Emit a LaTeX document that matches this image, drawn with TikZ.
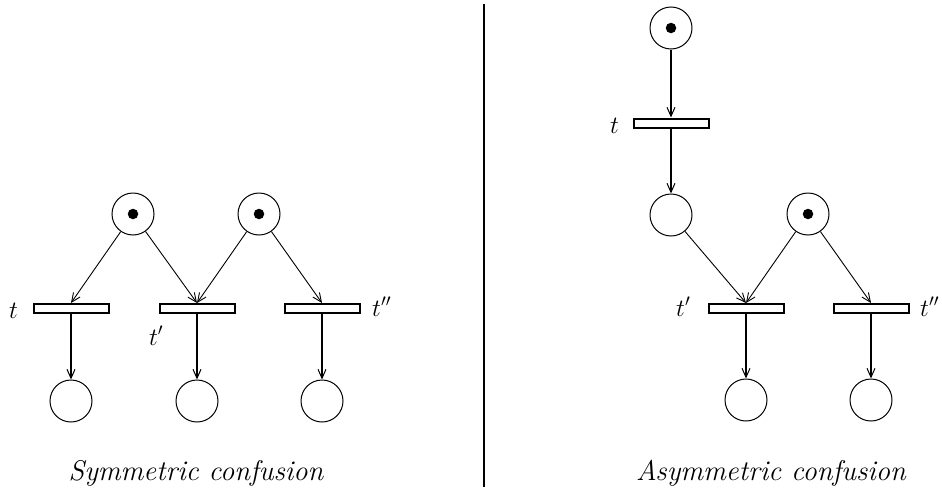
\documentclass[tikz,border=0pt]{standalone}
\usetikzlibrary{arrows.meta}
\begin{document}
\begin{tikzpicture}[x=1pt,y=-1pt,
  place/.style={circle,draw,line width=1pt,minimum size=42pt,inner sep=0pt},
  trans/.style={rectangle,draw,line width=2pt,minimum width=75pt,minimum height=9pt,inner sep=0pt,fill=white},
  token/.style={circle,fill,minimum size=10.5pt,inner sep=0pt},
  arcd/.style={line width=0.9pt,-{Straight Barb[length=9pt,width=8pt,line width=0.9pt]}},
  arcv/.style={line width=1.6pt,-{Straight Barb[length=9pt,width=8pt,line width=1pt]}},
  lbl/.style={inner sep=0pt,anchor=base west,font=\fontsize{24}{28}\selectfont},
  captext/.style={inner sep=0pt,anchor=base,font=\fontsize{28.5}{34}\selectfont\itshape}]
\useasboundingbox (0,0) rectangle (942,490);
% separator
\coordinate (sepT) at (484,4);
\coordinate (sepB) at (484,487);
\draw[line width=1.6pt] (sepT) -- (sepB);
% ---- left panel ----
\node[place] (L1) at (133,214) {};
\node[token] at (L1) {};
\node[place] (L2) at (259,214) {};
\node[token] at (L2) {};
\node[trans] (Lt) at (71,308.5) {};
\node[trans] (Ltp) at (197,308.5) {};
\node[trans] (Ltpp) at (322,308.5) {};
\node[place] (Lb1) at (71,401) {};
\node[place] (Lb2) at (197,401) {};
\node[place] (Lb3) at (322,401) {};
\draw[arcd] (L1) -- (Lt.north);
\draw[arcd] (L1) -- (Ltp.north);
\draw[arcd] (L2) -- (Ltp.north);
\draw[arcd] (L2) -- (Ltpp.north);
\draw[arcv] (Lt.south) -- (Lb1);
\draw[arcv] (Ltp.south) -- (Lb2);
\draw[arcv] (Ltpp.south) -- (Lb3);
\node[lbl] (lt) at (9,318) {$t$};
\node[lbl] (ltp) at (149,345) {$t'$};
\node[lbl] (ltpp) at (372,316) {$t''$};
\node[captext] (capL) at (196,480) {Symmetric confusion};
% ---- right panel ----
\node[place] (R0) at (671,28) {};
\node[token] at (R0) {};
\node[trans] (Rt) at (671,123) {};
\node[place] (R1) at (671,215) {};
\node[place] (R2) at (808,214) {};
\node[token] at (R2) {};
\node[trans] (Rtp) at (746,308.5) {};
\node[trans] (Rtpp) at (871,308.5) {};
\node[place] (Rb1) at (746,400) {};
\node[place] (Rb2) at (871,400) {};
\draw[arcv] (R0) -- (Rt.north);
\draw[arcv] (Rt.south) -- (R1);
\draw[arcd] (R1) -- (Rtp.north);
\draw[arcd] (R2) -- (Rtp.north);
\draw[arcd] (R2) -- (Rtpp.north);
\draw[arcv] (Rtp.south) -- (Rb1);
\draw[arcv] (Rtpp.south) -- (Rb2);
\node[lbl] (rt) at (610,133) {$t$};
\node[lbl] (rtp) at (676,316) {$t'$};
\node[lbl] (rtpp) at (920,316) {$t''$};
\node[captext] (capR) at (771,480) {Asymmetric confusion};
\end{tikzpicture}
\end{document}
